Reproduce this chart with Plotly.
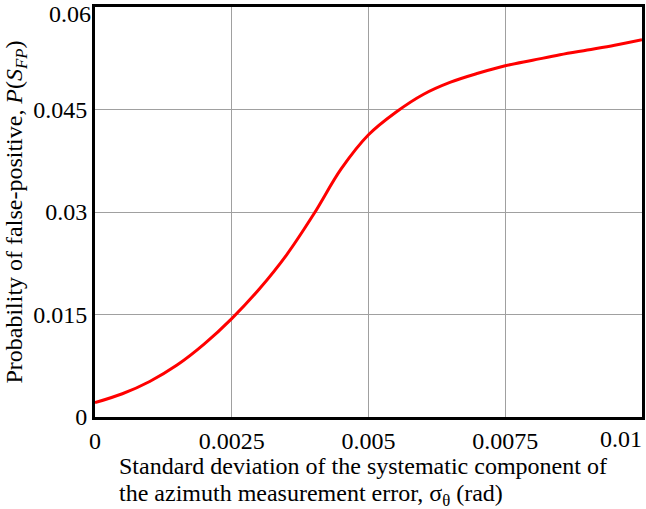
import plotly.graph_objects as go

sigma = [0, 0.0005, 0.001, 0.0015, 0.002, 0.0025, 0.003, 0.0035, 0.004, 0.0045,
         0.005, 0.0055, 0.006, 0.0065, 0.007, 0.0075, 0.008, 0.0085, 0.009, 0.0095, 0.01]
prob = [0.0021, 0.0034, 0.0052, 0.0076, 0.0107, 0.0144, 0.0187, 0.0237, 0.0297, 0.0363,
        0.0413, 0.0446, 0.0472, 0.0490, 0.0503, 0.0514, 0.0522, 0.0530, 0.0537, 0.0544, 0.0552]

x_ticks = [0, 0.0025, 0.005, 0.0075, 0.01]
x_labels = ["0", "0.0025", "0.005", "0.0075", "0.01"]
y_ticks = [0, 0.015, 0.03, 0.045, 0.06]
y_labels = ["0", "0.015", "0.03", "0.045", "0.06"]

x_title_lines = ["Standard deviation of the systematic component of",
                 "the azimuth measurement error, σ<sub>θ</sub> (rad)"]
y_title = "Probability of false-positive, <i>P</i>(<i>S<sub>FP</sub></i>)"

FONT = "Liberation Serif, Times New Roman, serif"
FS = 24

fig = go.Figure()
fig.add_trace(go.Scatter(x=sigma, y=prob, mode="lines",
                         line=dict(color="#ff0000", width=3, shape="spline", smoothing=1.0),
                         showlegend=False, hoverinfo="skip"))

fig.update_layout(
    width=646, height=509,
    margin=dict(l=95, r=4, t=7, b=92),
    paper_bgcolor="white", plot_bgcolor="white",
    font=dict(family=FONT, size=FS, color="black"),
    xaxis=dict(range=[0, 0.0100001], tickvals=x_ticks,
               ticktext=x_labels[:-1] + [""],
               showgrid=True, gridcolor="#a0a0a0", gridwidth=1,
               showline=True, linecolor="black", linewidth=3, mirror=True,
               ticks="", zeroline=False, automargin=False,
               ticklabeloverflow="allow",
               tickfont=dict(size=FS, family=FONT)),
    yaxis=dict(range=[0, 0.0600001], tickvals=y_ticks,
               ticktext=y_labels[:-1] + [""],
               showgrid=True, gridcolor="#a0a0a0", gridwidth=1,
               showline=True, linecolor="black", linewidth=3, mirror=True,
               ticks="", zeroline=False, automargin=False,
               ticklabeloverflow="allow",
               tickfont=dict(size=FS, family=FONT),
               title=dict(text=y_title, font=dict(size=FS, family=FONT), standoff=4)),
)

# end labels nudged inside the page, as in the original
fig.add_annotation(text=x_labels[-1], xref="x", yref="paper", x=x_ticks[-1], y=0,
                   xanchor="right", yanchor="top", xshift=2, yshift=-7, showarrow=False,
                   font=dict(size=FS, family=FONT, color="black"))
fig.add_annotation(text=y_labels[-1], xref="paper", yref="y", x=0, y=y_ticks[-1],
                   xanchor="right", yanchor="top", xshift=-2, yshift=8, showarrow=False,
                   font=dict(size=FS, family=FONT, color="black"))

# two-line x-axis title, left aligned
for i, line in enumerate(x_title_lines):
    top_px = 451 + i * 27
    fig.add_annotation(
        text=line, xref="paper", yref="paper",
        x=(117 - 95) / 547, y=-(top_px - 417) / 410,
        xanchor="left", yanchor="top", align="left", showarrow=False,
        font=dict(size=FS, family=FONT, color="black"),
    )

fig.write_html("out.html", config={"displayModeBar": False},
               post_script="document.body.style.margin='0';document.body.style.overflow='hidden';")
